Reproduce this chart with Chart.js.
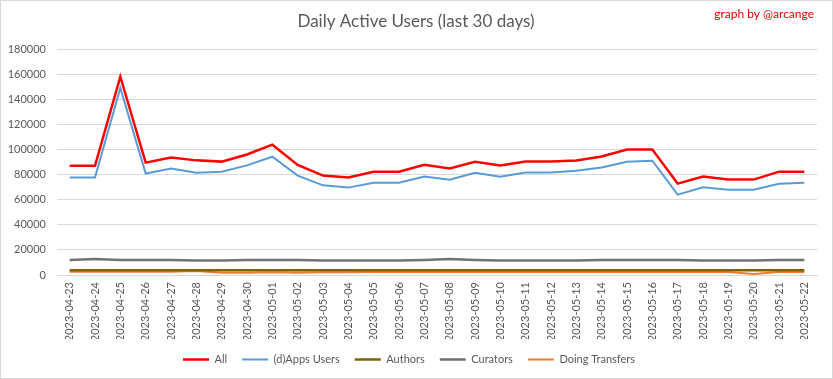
<!DOCTYPE html>
<html>
<head>
<meta charset="utf-8">
<script src="https://cdn.jsdelivr.net/npm/chart.js@4/dist/chart.umd.min.js"></script>
<style>
  html, body { margin: 0; padding: 0; background: #fff; }
  #wrap { position: relative; width: 833px; height: 379px; box-sizing: border-box; border: 1px solid #d9d9d9; }
  canvas { display: block; }
</style>
</head>
<body>
<div id="wrap"><canvas id="c" width="831" height="377"></canvas></div>
<script>
const categories = ["2023-04-23","2023-04-24","2023-04-25","2023-04-26","2023-04-27","2023-04-28","2023-04-29","2023-04-30","2023-05-01","2023-05-02","2023-05-03","2023-05-04","2023-05-05","2023-05-06","2023-05-07","2023-05-08","2023-05-09","2023-05-10","2023-05-11","2023-05-12","2023-05-13","2023-05-14","2023-05-15","2023-05-16","2023-05-17","2023-05-18","2023-05-19","2023-05-20","2023-05-21","2023-05-22"];
const allUsers = [87000,87000,158000,89500,93500,91300,90300,96000,103800,87700,79200,77600,82300,82300,87800,84900,90200,87300,90300,90300,91200,94400,100000,100000,72800,78400,76000,76000,82300,82300];
const appsUsers = [77700,77700,149000,80800,84900,81500,82300,87300,94200,79200,71400,69600,73500,73500,78500,75900,81500,78300,81600,81600,83100,85700,90200,91000,64000,69800,67900,67900,72700,73500];
const authors = [3700,3700,3700,3700,3700,3700,3700,3700,3700,3700,3700,3700,3700,3700,3700,3700,3700,3700,3700,3700,3700,3700,3700,3700,3700,3700,3700,3700,3700,3700];
const curators = [12000,12800,12000,12000,12000,11500,11500,12000,12000,12000,11500,11500,11500,11500,12000,12800,12000,11500,11500,11500,11500,12000,12000,12000,12000,11500,11500,11500,12000,12000];
const transfers = [2600,2600,2600,2600,2600,3200,1800,1800,2200,1800,2200,2200,2300,2300,2300,2300,2300,2300,2300,2300,2300,2300,2300,2300,2300,2300,2300,800,2300,2300];
const yTicks = [0,20000,40000,60000,80000,100000,120000,140000,160000,180000];

const titleText = "Daily Active Users (last 30 days)";
const creditText = "graph by @arcange";

const textPlugin = {
  id: 'texts',
  afterDraw(chart) {
    const ctx = chart.ctx;
    ctx.save();
    ctx.textBaseline = 'middle';
    ctx.textAlign = 'center';
    ctx.fillStyle = '#595959';
    ctx.font = '17px Lato';
    ctx.fillText(titleText, 415, 21);
    ctx.textAlign = 'right';
    ctx.fillStyle = '#e00000';
    ctx.font = '12px Lato';
    ctx.fillText(creditText, 813, 13);
    ctx.restore();
  }
};

const mk = (label, data, color, w) => ({
  label, data, borderColor: color, backgroundColor: color, borderWidth: w,
  pointRadius: 0, pointHoverRadius: 0, tension: 0, fill: false
});

new Chart(document.getElementById('c'), {
  type: 'line',
  data: {
    labels: categories,
    datasets: [
      mk('All', allUsers, '#ff0000', 2.5),
      mk('(d)Apps Users', appsUsers, '#5b9bd5', 2),
      mk('Authors', authors, '#806000', 2.5),
      mk('Curators', curators, '#757171', 2.5),
      mk('Doing Transfers', transfers, '#ed7d31', 2)
    ]
  },
  options: {
    responsive: false,
    animation: false,
    devicePixelRatio: 1,
    layout: { padding: { top: 48, right: 15, left: 0, bottom: 3 } },
    plugins: {
      title: { display: false },
      tooltip: { enabled: false },
      legend: {
        position: 'bottom',
        labels: {
          usePointStyle: true,
          pointStyle: 'line',
          pointStyleWidth: 26,
          boxHeight: 10,
          padding: 15,
          color: '#595959',
          font: { family: 'Lato', size: 11 }
        }
      }
    },
    scales: {
      x: {
        offset: true,
        grid: { display: false, drawTicks: false },
        border: { display: true, color: '#d9d9d9' },
        ticks: {
          autoSkip: false, minRotation: 90, maxRotation: 90, padding: 7,
          color: '#595959', font: { family: 'Lato', size: 11 }
        },
        afterFit(scale) { scale.height = 64; }
      },
      y: {
        min: 0, max: 180000,
        afterBuildTicks(scale) { scale.ticks = yTicks.map(v => ({ value: v })); },
        grid: { color: '#d9d9d9', drawTicks: false },
        border: { display: false },
        ticks: {
          padding: 11, color: '#595959', font: { family: 'Lato', size: 11 },
          callback: v => String(v)
        },
        afterFit(scale) { scale.width = 56; }
      }
    }
  },
  plugins: [textPlugin]
});
</script>
</body>
</html>
